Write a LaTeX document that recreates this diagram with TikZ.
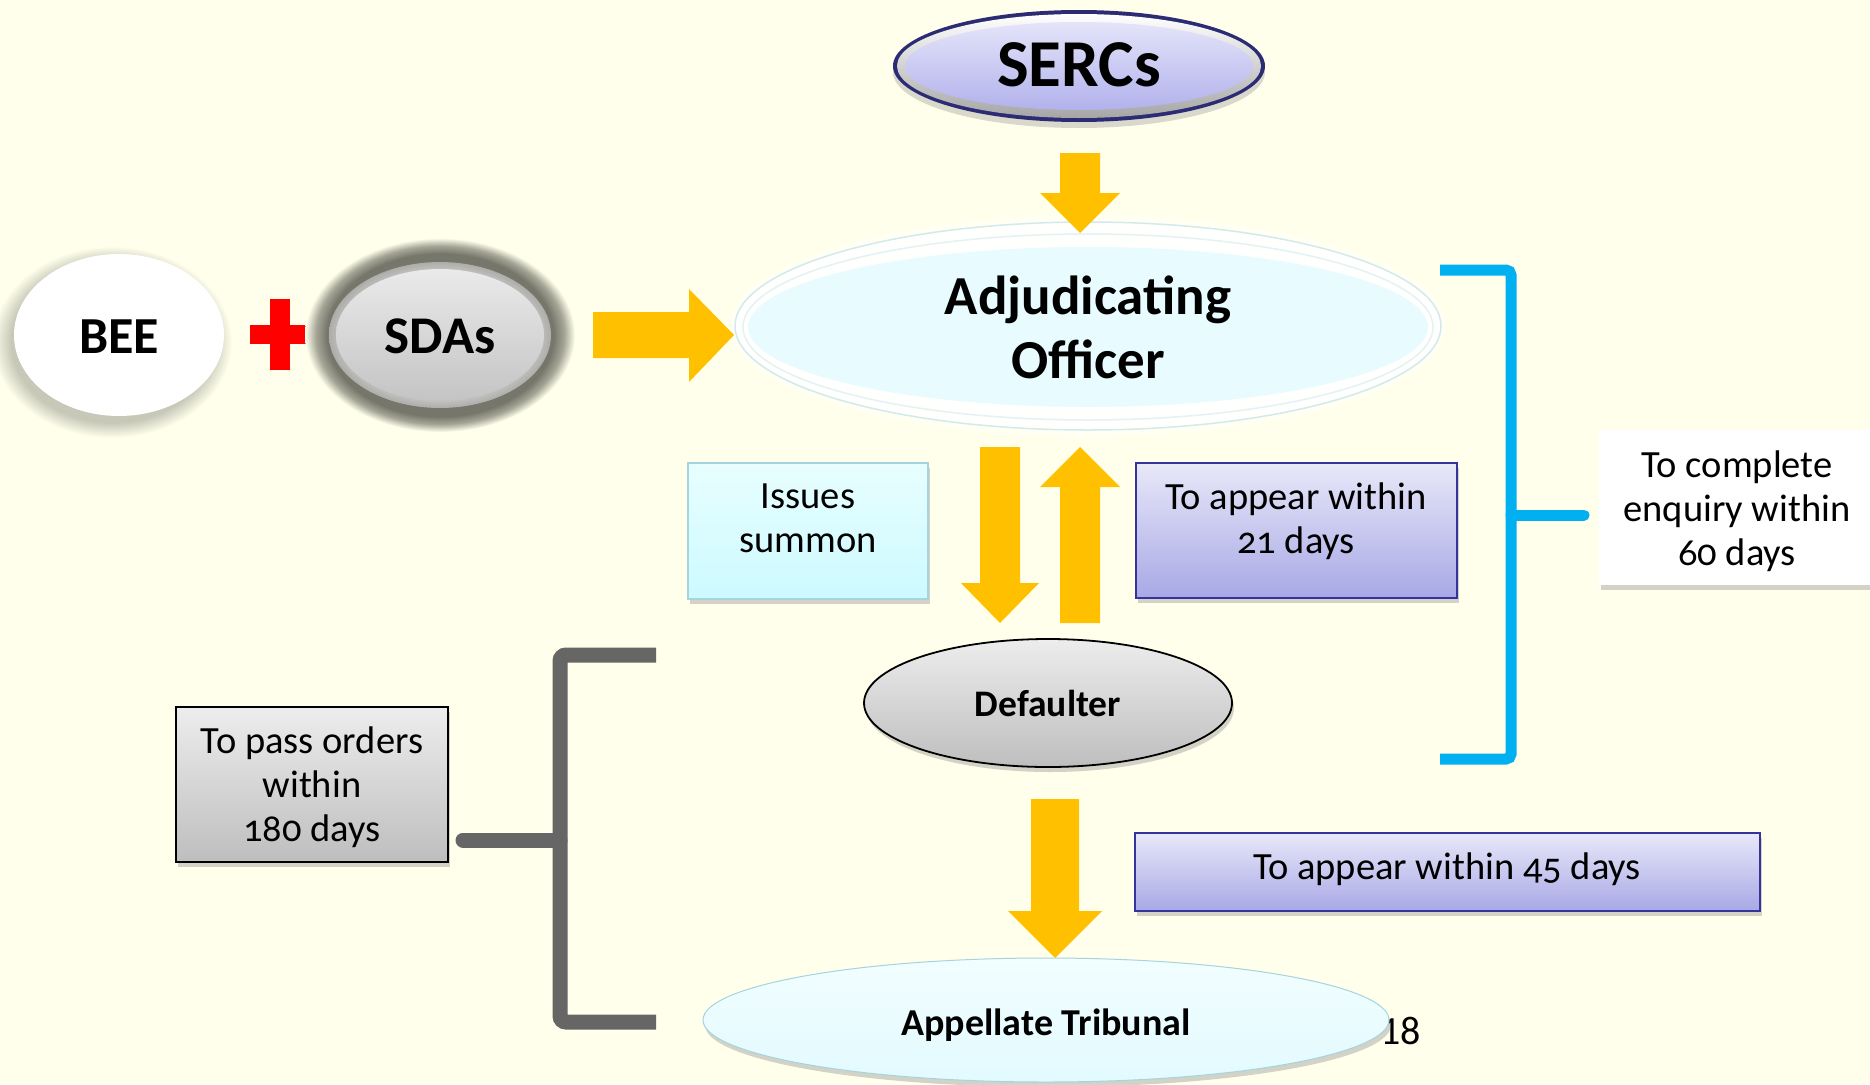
\documentclass[tikz,border=0pt]{standalone}
\usepackage{fontspec}
\setmainfont{Carlito}[Numbers=OldStyle]
\newfontfamily\liningfont{Carlito}
\usetikzlibrary{shapes.geometric,shadows}
\definecolor{bgc}{RGB}{255,255,236}
\definecolor{arrowc}{RGB}{255,192,0}
\definecolor{navyc}{RGB}{44,44,116}
\definecolor{lavtop}{RGB}{232,232,249}
\definecolor{lavbot}{RGB}{168,168,230}
\definecolor{lavline}{RGB}{52,52,154}
\definecolor{cyantop}{RGB}{232,254,255}
\definecolor{cyanbot}{RGB}{204,250,255}
\definecolor{cyanline}{RGB}{165,212,222}
\definecolor{graytop}{RGB}{237,237,237}
\definecolor{graybot}{RGB}{190,190,190}
\definecolor{bluebr}{RGB}{0,176,240}
\definecolor{graybr}{RGB}{102,102,102}
\definecolor{ringc}{RGB}{118,118,106}
\definecolor{glowc}{RGB}{200,200,185}
\definecolor{aocyan}{RGB}{232,252,255}
\definecolor{sertop}{RGB}{228,228,250}
\definecolor{serbot}{RGB}{178,178,236}
\definecolor{attop}{RGB}{242,254,255}
\definecolor{atbot}{RGB}{226,250,255}
\definecolor{sdatop}{RGB}{234,234,234}
\definecolor{sdabot}{RGB}{196,196,196}
\colorlet{ringmid}{ringc!65!bgc}
\pgfdeclareradialshading{sdaring}{\pgfpoint{0bp}{0bp}}{color(0bp)=(ringc); color(21bp)=(ringc); color(23bp)=(ringmid); color(25bp)=(bgc); color(50bp)=(bgc)}
\pgfdeclareradialshading{beeglow}{\pgfpoint{0bp}{0bp}}{color(0bp)=(glowc); color(21bp)=(glowc); color(25bp)=(bgc); color(50bp)=(bgc)}
\pgfdeclareradialshading{sdainner}{\pgfpoint{0bp}{0bp}}{color(0bp)=(sdatop); color(19bp)=(sdatop!85!sdabot); color(22bp)=(sdabot); color(25bp)=(sdabot!70!ringc); color(50bp)=(ringc)}
\tikzset{
  ell/.style={ellipse, inner sep=0pt},
  blockarrow/.style={fill=arrowc},
  boxtxt/.style={font=\fontsize{38.5}{44}\selectfont, align=center, inner sep=0pt},
  bigbold/.style={font=\bfseries\fontsize{#1}{#1}\selectfont},
  shad/.style={drop shadow={opacity=0.35, shadow xshift=2pt, shadow yshift=-5pt}},
  lavbox/.style={rectangle, inner sep=0pt, top color=lavtop, bottom color=lavbot, draw=lavline, line width=2pt, shad},
  boxshape/.style={rectangle, inner sep=0pt}
}
\begin{document}
\begin{tikzpicture}[x=1pt,y=-1pt]
\fill[bgc] (0,0) rectangle (1870,1084);
\useasboundingbox (0,0) rectangle (1870,1084);

% SERCs
\node[ell, minimum width=372pt, minimum height=112pt, fill=navyc, drop shadow={opacity=0.3, shadow xshift=0pt, shadow yshift=-6pt}] (sercsout) at (1079,66) {};
\node[ell, minimum width=364pt, minimum height=104pt, top color=white, bottom color=black!35] (sercsrim) at (1079,66) {};
\node[ell, minimum width=348pt, minimum height=88pt, top color=sertop, bottom color=serbot, bigbold=67, text height=41pt, text depth=0pt] (sercs) at (1079,66) {SERCs};

% Adjudicating Officer
\node[ell, minimum width=716pt, minimum height=222pt, fill=white, fill opacity=0.35] (aoglow) at (1088,326) {};
\node[ell, minimum width=706pt, minimum height=208pt, fill=white, fill opacity=0.85, draw=cyanline!50, line width=1.5pt] (aoring) at (1088,326) {};
\node[ell, minimum width=690pt, minimum height=186pt, draw=cyanline!30, line width=1.5pt] (aoring2) at (1088,327) {};
\node[ell, minimum width=680pt, minimum height=160pt, fill=aocyan] (ao) at (1088,327) {};
\node[font=\bfseries\fontsize{55}{64}\selectfont, align=center, inner sep=0pt] (aotxt) at (1088,327) {Adjudicating\\Officer};

% BEE
\node[ell, minimum width=240pt, minimum height=192pt, shade, shading=beeglow] (beeglow) at (112,342) {};
\node[ell, minimum width=210pt, minimum height=162pt, fill=white, bigbold=52, text height=36pt, text depth=0pt] (bee) at (119,335) {BEE};

% plus
\fill[red] (250,325) rectangle (310,344);
\fill[red] (270,299) rectangle (290,370);

% SDAs
\node[ell, minimum width=270pt, minimum height=194pt, shade, shading=sdaring] (sdaring) at (440,335) {};
\node[ell, minimum width=222pt, minimum height=146pt, shade, shading=sdainner] (sdablur) at (440,335) {};
\node[ell, minimum width=208pt, minimum height=132pt, top color=sdatop, bottom color=sdabot, bigbold=53, text height=36pt, text depth=0pt] (sdas) at (440,335) {SDAs};

% block arrows
\fill[blockarrow] (1060,153) -- (1100,153) -- (1100,193) -- (1120,193) -- (1080,233) -- (1040,193) -- (1060,193) -- cycle;
\fill[blockarrow] (593,312) -- (689,312) -- (689,289) -- (734,335) -- (689,382) -- (689,358) -- (593,358) -- cycle;
\fill[blockarrow] (980,447) -- (1020,447) -- (1020,583) -- (1039,583) -- (1000,623) -- (961,583) -- (980,583) -- cycle;
\fill[blockarrow] (1060,623) -- (1100,623) -- (1100,487) -- (1120,487) -- (1080,447) -- (1040,487) -- (1060,487) -- cycle;
\fill[blockarrow] (1031,799) -- (1079,799) -- (1079,911) -- (1102,911) -- (1055,958) -- (1008,911) -- (1031,911) -- cycle;

% Issues summon
\node[boxshape, minimum width=240pt, minimum height=136pt, top color=cyantop, bottom color=cyanbot, draw=cyanline, line width=1.5pt, shad] (issues) at (808,531) {};
\node[boxtxt] (issuestxt) at (808,518) {Issues\\summon};

% 21 days
\node[lavbox, minimum width=321pt, minimum height=135pt] (d21) at (1296.5,530.5) {};
\node[boxtxt] (d21txt) at (1296,521) {To appear within\\21 days};

% 60 days
\node[boxshape, minimum width=272pt, minimum height=155pt, fill=white, shad] (d60) at (1735,507.5) {};
\node[boxtxt] (d60txt) at (1737,511) {To complete\\enquiry within\\60 days};

% 180 days
\node[boxshape, minimum width=272pt, minimum height=155pt, top color=graytop, bottom color=graybot, draw=black, line width=2pt, shad] (d180) at (312,784.5) {};
\node[boxtxt] (d180txt) at (312,787) {To pass orders\\within\\180 days};

% 45 days
\node[lavbox, minimum width=625pt, minimum height=78pt] (d45) at (1447.5,872) {};
\node[boxtxt, anchor=base] (d45txt) at (1447,879) {To appear within 45 days};

% Defaulter
\node[ell, minimum width=368pt, minimum height=128pt, top color=graytop, bottom color=graybot, draw=black, line width=1.8pt, shad, bigbold=37.5, text height=26pt, text depth=0pt] (def) at (1048,703) {Defaulter};

% page number and Appellate Tribunal
\node[anchor=base west, font=\liningfont\fontsize{40}{40}\selectfont, inner sep=0pt] (pagenum) at (1380,1044) {18};
\node[ell, minimum width=686pt, minimum height=124pt, top color=attop, bottom color=atbot, draw=cyanline, line width=1pt, shad, bigbold=38, text height=30pt, text depth=0pt] (at) at (1046,1020) {Appellate Tribunal};

% brackets
\draw[bluebr, line width=11pt, rounded corners=5pt] (1440,270) -- (1511,270) -- (1511,759) -- (1440,759);
\draw[bluebr, line width=11pt, line cap=round] (1511,515) -- (1584,515);
\draw[graybr, line width=15pt, rounded corners=6pt] (656,655) -- (560,655) -- (560,1022) -- (656,1022);
\draw[graybr, line width=15pt, line cap=round] (560,840) -- (463,840);
\end{tikzpicture}
\end{document}
